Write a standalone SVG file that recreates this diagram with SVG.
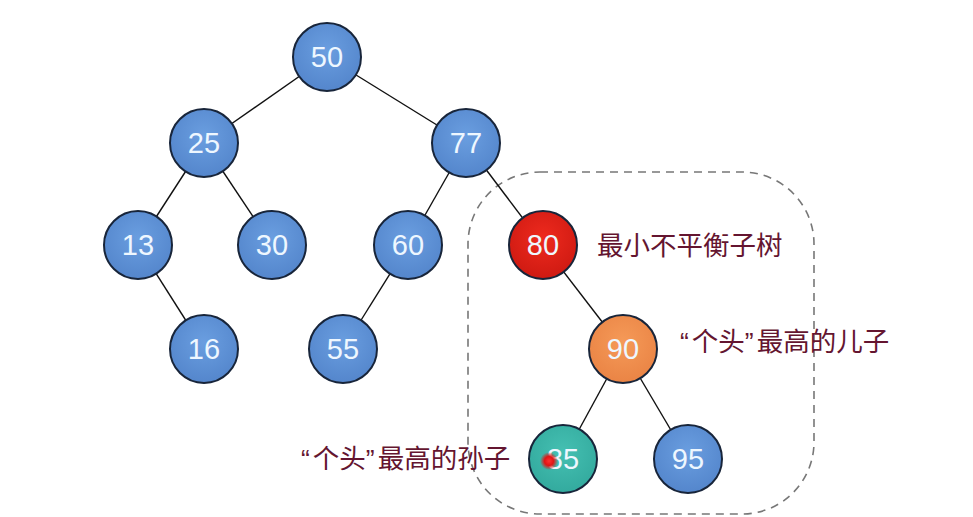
<svg xmlns="http://www.w3.org/2000/svg" width="973" height="517" viewBox="0 0 973 517">
<defs>
<radialGradient id="gBlue" cx="50%" cy="40%" r="60%"><stop offset="0" stop-color="#6a9ee0"/><stop offset="1" stop-color="#5486cc"/></radialGradient>
<radialGradient id="gRed" cx="50%" cy="40%" r="60%"><stop offset="0" stop-color="#ee2a1e"/><stop offset="1" stop-color="#cf1a12"/></radialGradient>
<radialGradient id="gOrange" cx="50%" cy="40%" r="60%"><stop offset="0" stop-color="#f59a58"/><stop offset="1" stop-color="#ea8445"/></radialGradient>
<radialGradient id="gTeal" cx="50%" cy="40%" r="60%"><stop offset="0" stop-color="#45c0b2"/><stop offset="1" stop-color="#33aa9e"/></radialGradient>
<radialGradient id="gDot"><stop offset="0" stop-color="#ff3030"/><stop offset="0.5" stop-color="#e01515"/><stop offset="1" stop-color="#e01515" stop-opacity="0"/></radialGradient>
</defs>
<style>
.n circle{stroke:#18253a;stroke-width:2}
.n text{font-family:"Liberation Sans",Arial,sans-serif;font-size:29px;fill:#eef7ff;text-anchor:middle}
.e line{stroke:#111;stroke-width:1.4}
.lbl{font-family:"Noto Sans CJK SC",sans-serif;font-size:26.5px;fill:#641530}
.q{font-family:"Liberation Sans",Arial,sans-serif}
</style>
<rect x="0" y="0" width="973" height="517" fill="#ffffff"/>
<rect x="468" y="172" width="346" height="342" rx="72" ry="72" fill="none" stroke="#777" stroke-width="1.6" stroke-dasharray="8,6"/>
<g id="connectors" class="e">
<line x1="327" y1="57" x2="204" y2="143"/>
<line x1="327" y1="57" x2="466" y2="143"/>
<line x1="204" y1="143" x2="138" y2="245"/>
<line x1="204" y1="143" x2="272" y2="245"/>
<line x1="466" y1="143" x2="408" y2="245"/>
<line x1="466" y1="143" x2="543" y2="245"/>
<line x1="138" y1="245" x2="204" y2="349"/>
<line x1="408" y1="245" x2="343" y2="349"/>
<line x1="543" y1="245" x2="623" y2="349"/>
<line x1="623" y1="349" x2="563" y2="459"/>
<line x1="623" y1="349" x2="688" y2="459"/>
</g>
<g id="n50" class="n"><circle cx="327" cy="57" r="34" fill="url(#gBlue)"/><text x="327" y="67">50</text></g>
<g id="n25" class="n"><circle cx="204" cy="143" r="34" fill="url(#gBlue)"/><text x="204" y="153">25</text></g>
<g id="n77" class="n"><circle cx="466" cy="143" r="34" fill="url(#gBlue)"/><text x="466" y="153">77</text></g>
<g id="n13" class="n"><circle cx="138" cy="245" r="34" fill="url(#gBlue)"/><text x="138" y="255">13</text></g>
<g id="n30" class="n"><circle cx="272" cy="245" r="34" fill="url(#gBlue)"/><text x="272" y="255">30</text></g>
<g id="n60" class="n"><circle cx="408" cy="245" r="34" fill="url(#gBlue)"/><text x="408" y="255">60</text></g>
<g id="n80" class="n"><circle cx="543" cy="245" r="34" fill="url(#gRed)"/><text x="543" y="255">80</text></g>
<g id="n16" class="n"><circle cx="204" cy="349" r="34" fill="url(#gBlue)"/><text x="204" y="359">16</text></g>
<g id="n55" class="n"><circle cx="343" cy="349" r="34" fill="url(#gBlue)"/><text x="343" y="359">55</text></g>
<g id="n90" class="n"><circle cx="623" cy="349" r="34" fill="url(#gOrange)"/><text x="623" y="359">90</text></g>
<g id="n85" class="n"><circle cx="563" cy="459" r="34" fill="url(#gTeal)"/><text x="563" y="469">85</text></g>
<g id="n95" class="n"><circle cx="688" cy="459" r="34" fill="url(#gBlue)"/><text x="688" y="469">95</text></g>
<circle cx="549" cy="461" r="9" fill="url(#gDot)"/>
<text class="lbl" x="597" y="255">最小不平衡子树</text>
<text class="lbl" x="680" y="351"><tspan class="q">“</tspan><tspan dx="3">个头</tspan><tspan class="q">”</tspan><tspan dx="3">最高的儿子</tspan></text>
<text class="lbl" x="301" y="468"><tspan class="q">“</tspan><tspan dx="3">个头</tspan><tspan class="q">”</tspan><tspan dx="3">最高的孙子</tspan></text>
</svg>
